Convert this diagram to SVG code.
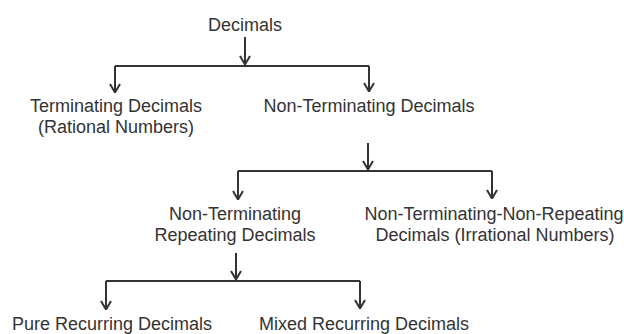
<svg xmlns="http://www.w3.org/2000/svg" width="624" height="334" viewBox="0 0 624 334">
<style>
text{font-family:"Liberation Sans",Arial,sans-serif;font-size:18px;fill:#333;text-anchor:middle}
.c path{fill:none;stroke:#333;stroke-width:2}
</style>
<defs>
<marker id="ah" viewBox="0 0 10 12" refX="10" refY="6" markerWidth="10" markerHeight="12" markerUnits="userSpaceOnUse" orient="auto">
<path d="M1,1 L9.5,6 L1,11" fill="none" stroke="#333" stroke-width="2"/>
</marker>
</defs>
<rect width="624" height="334" fill="#fff"/>
<g class="c" id="connectors">
<path d="M245,37 V65" marker-end="url(#ah)"/>
<path d="M115,66 H369"/>
<path d="M115,66 V93" marker-end="url(#ah)"/>
<path d="M369,66 V92" marker-end="url(#ah)"/>
<path d="M368,143 V170" marker-end="url(#ah)"/>
<path d="M238,171 H492"/>
<path d="M238,171 V200" marker-end="url(#ah)"/>
<path d="M492,171 V199" marker-end="url(#ah)"/>
<path d="M236,253 V280" marker-end="url(#ah)"/>
<path d="M106,281 H360"/>
<path d="M106,281 V310" marker-end="url(#ah)"/>
<path d="M360,281 V309" marker-end="url(#ah)"/>
</g>
<g id="decimals"><text x="245" y="31">Decimals</text></g>
<g id="terminating"><text x="116" y="112">Terminating Decimals</text><text x="116" y="133">(Rational Numbers)</text></g>
<g id="nonterminating"><text x="369" y="112">Non-Terminating Decimals</text></g>
<g id="repeating"><text x="235" y="220">Non-Terminating</text><text x="235" y="241">Repeating Decimals</text></g>
<g id="nonrepeating"><text x="494" y="220">Non-Terminating-Non-Repeating</text><text x="495" y="241">Decimals (Irrational Numbers)</text></g>
<g id="pure"><text x="112" y="330">Pure Recurring Decimals</text></g>
<g id="mixed"><text x="364" y="330">Mixed Recurring Decimals</text></g>
</svg>
